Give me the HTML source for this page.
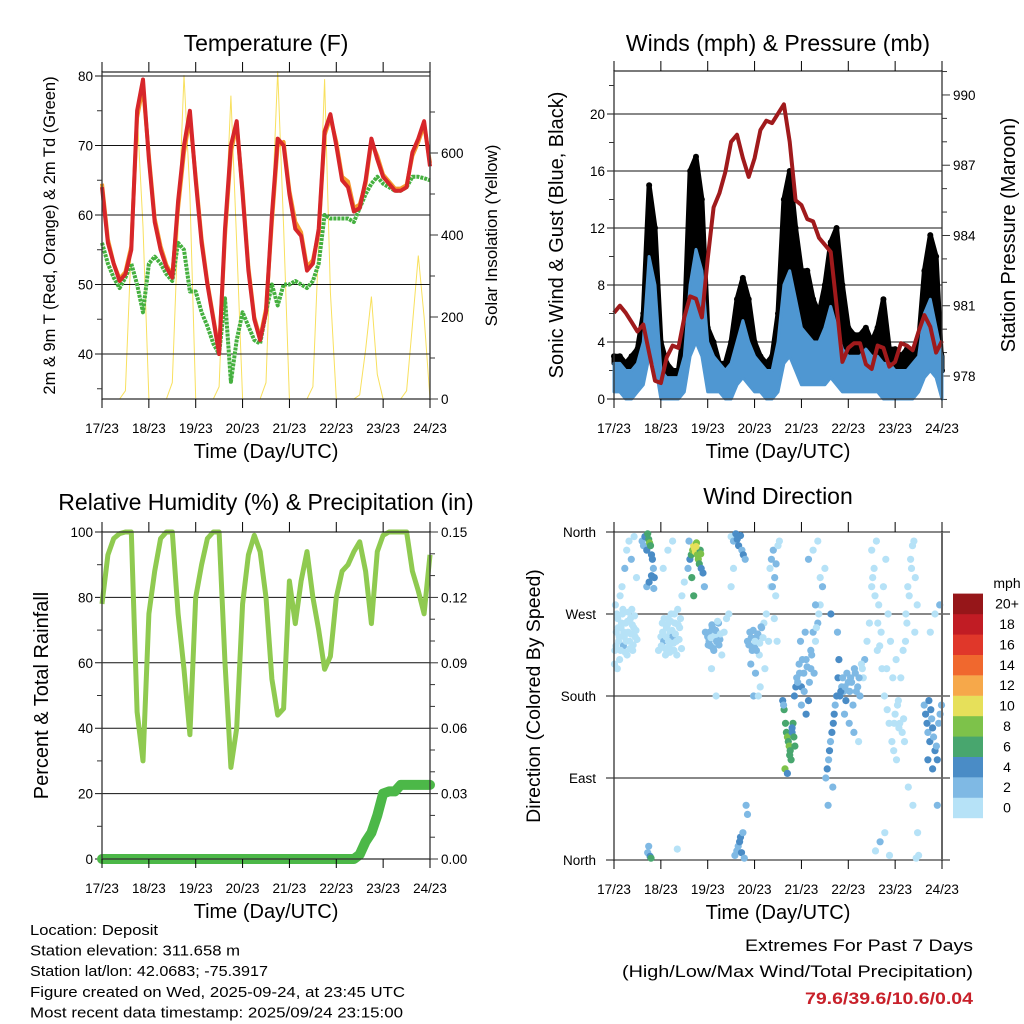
<!DOCTYPE html>
<html><head><meta charset="utf-8"><style>
html,body{margin:0;padding:0;background:#fff;}
svg{display:block;font-family:"Liberation Sans",sans-serif;}
</style></head><body>
<svg id="fig" width="1024" height="1024" viewBox="0 0 1024 1024" xmlns="http://www.w3.org/2000/svg"></svg>
<script>
// ---------- DATA (3-hourly, day offsets from 17/23 UTC) ----------
const dayLabels = ["17/23","18/23","19/23","20/23","21/23","22/23","23/23","24/23"];
const tempT = [64,56,53,50.5,51.5,55,75,79.5,68,59,55,52.5,51,62,70,75,65,56,50,45,40,58,70,73.5,63,52,45,42,46,60,71,70,63,58,57,52,53,58,72,74.5,70,65,64,60.5,61,65,71,68,65.5,64.5,63.5,63.5,64,69,71,73.5,67];
const tempT9 = [64.5,56.5,53,50.8,51.8,55.5,74,78.5,68.5,59.5,55.5,52.8,51.3,61,69,74,65.5,56.5,50.3,45.3,40.3,57,69,73,63.5,52.5,45.3,42.3,46.5,59,70,70.5,63.5,59,57.5,52.5,53.5,57.5,71.5,74,70.5,65.5,64.8,61,61.5,64.5,70.5,68.5,65.8,64.8,63.8,63.8,64.3,68.5,70.5,73,67.5];
const tempTd = [56,53,51,49.5,51,53,50,46,53,54,53,51.5,50.5,56,55,49,49,46,44,41.5,40,48,36,42,46,44,42,41.5,46,50,47,50,50,50.5,50,49.5,50.5,53,60,59.5,59.5,59.5,59.5,59,61,63,64.5,65.5,64.5,64,63.5,63.5,64,65.5,65.5,65.3,65];
const solar = [0,0,0,0,20,380,700,420,0,0,0,0,40,420,790,500,0,0,0,0,30,400,740,380,0,0,0,0,40,450,800,420,0,0,0,0,30,380,780,260,0,0,0,0,10,120,250,60,0,0,0,0,20,180,350,200,0];
const pressure = [980.7,981,980.7,980.3,979.9,980.2,979,977.8,977.7,978.8,979.3,979.2,980.5,981.4,981.3,980.5,983,985.2,985.8,986.7,988,988.3,987.3,986.5,987.3,988.5,988.9,988.8,989.2,989.6,988,985.5,985.3,984.7,984.6,983.9,983.6,983.3,981,978.6,979.2,979.4,979.4,978.5,978.3,979.3,979.2,978.4,978.6,979.4,979.3,979.1,979.9,980.6,980.1,979,979.5];
const windHi = [2.5,2.5,2,2,2.5,4,10,8,2,1.5,1.5,1.5,3,8,10.5,9,4,3,2.5,2,2.5,4,5.5,4,3,2.5,2,2,4,8,9,7,5,4.5,4,4,5,6.5,5,3.5,3,3,3,3.5,3,3,2.5,2.5,2,2,2,2.5,3,6,7,5,3];
const windLo = [0.5,0.5,0,0,0.5,1,3,2.5,0,0,0,0,0.5,3,4,3,0.5,0.5,0.5,0,0,1,1.5,1,0.5,0.5,0,0,0.5,2.5,3,2,1,1,1,1,1,1.5,1,0.5,0.5,0.5,0.5,0.5,0.5,0.5,0,0,0,0,0,0,0.5,1.5,2,1.5,0];
const gustHi = [3,3,2.5,3,3.5,6,15,12,4,2.5,2,2,5,16,17,14,5,4,2.5,2.5,4,7,8.5,7,4,3,2.5,3,6,14,16,12,9,9,7,6,8,11,12,8,5,4.5,4.5,5,4,5,7,3.5,3.5,3,3.5,3,4,9,11.5,10,2];
const rh = [78,93,98,99.5,100,100,45,30,75,88,98,100,100,75,58,38,80,90,98,100,100,60,28,40,78,93,99,94,80,55,44,46,85,72,85,94,80,70,58,62,80,88,90,94,97,88,72,94,99,100,100,100,100,88,82,75,93];
const precip = [0,0,0,0,0,0,0,0,0,0,0,0,0,0,0,0,0,0,0,0,0,0,0,0,0,0,0,0,0,0,0,0,0,0,0,0,0,0,0,0,0,0,0,0,0.002,0.008,0.012,0.02,0.03,0.031,0.031,0.034,0.034,0.034,0.034,0.034,0.034];
const windDirDays = [0.02,0.05,0.08,0.1,0.12,0.15,0.18,0.2,0.22,0.25,0.28,0.3,0.33,0.35,0.38,0.4,0.42,0.45,0.03,0.07,0.13,0.17,0.23,0.27,0.32,0.37,0.43,0.48,
0.6,0.63,0.66,0.7,0.72,0.74,0.76,0.78,0.8,0.82,0.84,0.86,0.7,0.75,0.8,0.85,0.72,0.77,0.74,0.79,
0.95,1.0,1.03,1.06,1.1,1.12,1.15,1.18,1.2,1.22,1.25,1.28,1.3,1.33,1.36,1.4,1.45,1.5,1.05,1.15,1.25,1.35,
1.58,1.62,1.65,1.68,1.7,1.72,1.74,1.76,1.78,1.8,1.82,1.84,1.86,1.9,1.93,1.66,1.75,1.85,1.7,1.6,
1.95,2.0,2.03,2.06,2.1,2.13,2.16,2.2,2.23,2.26,2.3,2.35,2.4,2.45,2.5,2.55,2.08,2.18,
2.5,2.55,2.6,2.63,2.66,2.7,2.73,2.76,2.8,2.58,2.65,2.7,2.75,2.62,2.68,2.72,2.78,2.82,2.85,
2.85,2.9,2.95,3.0,3.05,3.1,3.15,3.2,3.25,3.3,3.35,2.92,3.02,3.12,3.22,2.98,3.08,
3.33,3.36,3.4,3.43,3.46,3.5,3.53,3.38,3.45,3.42,3.48,
3.6,3.63,3.66,3.68,3.7,3.72,3.74,3.76,3.78,3.8,3.82,3.84,3.86,3.65,3.7,3.75,3.8,3.85,3.62,3.88,
3.9,3.95,4.0,4.05,4.1,4.15,4.2,4.25,4.3,4.35,4.4,4.45,4.5,4.0,4.1,4.2,4.3,4.4,4.15,4.25,4.35,3.98,4.08,
4.52,4.55,4.58,4.6,4.62,4.65,4.68,4.7,4.72,4.75,4.78,4.8,4.57,4.67,4.77,4.63,
4.82,4.86,4.9,4.95,5.0,5.05,5.1,5.15,5.2,5.25,5.3,5.35,5.4,4.92,5.02,5.12,5.22,5.32,5.45,5.5,
5.5,5.55,5.6,5.65,5.7,5.75,5.8,5.85,5.9,5.95,6.0,6.05,6.1,6.15,6.2,6.25,6.3,6.35,6.4,6.45,6.5,5.58,5.68,5.78,5.88,5.98,6.08,6.18,6.28,6.38,6.48,5.62,5.82,6.02,6.22,6.42,
6.62,6.65,6.68,6.7,6.72,6.74,6.76,6.78,6.8,6.82,6.85,6.88,6.9,6.93,6.96,6.99,6.7,6.8,6.9,6.75,6.85,6.95,
0.01,0.04,0.06,0.09,0.11,0.14,0.16,0.19,0.21,0.24,0.26,0.29,0.31,0.34,0.36,0.39,0.41,0.44,0.47,0.49,
1.01,1.04,1.07,1.09,1.11,1.14,1.16,1.19,1.21,1.24,1.27,1.29,1.31,1.34,1.37,1.39,1.42,1.44,
2.01,2.04,2.07,2.09,2.12,2.14,2.17,2.19,2.21,2.24,2.27,
2.88,2.93,2.97,3.01,3.04,3.07,3.11,3.14,3.18,
5.52,5.57,5.63,5.67,5.72,5.77,5.83,5.87,5.93,5.97,6.03,6.07,6.12,6.17,6.23,6.27,6.33,6.37,6.43,6.47,
3.92,3.96,4.02,4.06,4.12,4.17,4.22,4.27,4.32,4.37,
4.84,4.88,4.93,4.97,5.03,5.07,5.13,5.17,5.23,5.28];
const windDirDeg = [230,250,265,240,220,255,270,235,245,260,225,250,240,265,275,230,255,245,280,210,290,300,320,340,350,330,355,310,
350,345,355,340,358,352,348,345,335,330,320,310,300,305,312,298,8,4,15,2,
230,245,260,240,225,255,265,235,250,270,245,230,260,240,275,255,290,305,320,340,350,12,
320,330,335,340,345,342,338,348,335,330,325,340,320,315,300,310,344,336,290,350,
250,245,240,235,255,230,248,238,260,242,225,250,265,270,300,320,210,180,
355,350,358,352,345,356,340,335,330,5,15,25,30,10,20,8,2,60,50,
240,250,230,235,245,225,255,260,270,240,300,215,205,190,210,180,180,
320,330,340,310,325,345,350,300,290,265,240,
175,165,150,140,135,130,125,120,110,140,150,135,125,100,95,115,145,180,170,190,
200,215,190,205,220,175,230,250,240,260,280,300,320,170,160,210,280,310,330,340,350,240,250,
90,100,110,120,130,140,150,160,170,180,200,220,60,80,250,270,
180,190,185,175,195,200,170,205,190,180,210,220,240,160,150,140,130,200,260,300,
340,320,350,280,250,300,330,270,240,200,160,170,150,140,130,260,290,320,350,2,5,10,20,30,5,150,145,155,80,60,30,230,210,220,240,250,
170,160,150,140,175,130,165,155,145,135,120,125,110,150,160,170,110,100,60,250,270,280,
215,235,270,255,245,230,260,275,250,228,240,262,272,232,248,258,236,268,252,242,
235,250,265,232,245,258,240,228,262,252,238,270,248,225,258,242,265,232,
236,250,244,258,232,246,252,240,262,236,248,
236,244,252,240,230,248,238,256,244,
310,290,260,235,210,180,165,150,130,120,110,175,200,230,270,300,330,345,310,280,
195,205,220,185,212,195,225,205,255,270,
185,200,190,205,185,195,210,185,200,215];
const windDirSpd = [0,0,1,0,0,1,0,2,0,0,1,0,0,0,1,0,0,1,0,0,1,0,2,0,1,2,0,0,
2,3,4,5,6,7,9,6,5,4,3,4,3,4,5,3,2,5,3,6,
1,0,0,2,1,0,0,1,0,0,2,0,1,0,0,0,0,1,0,0,0,0,
3,5,7,9,10,11,10,9,8,8,7,6,5,4,3,7,10,8,6,2,
2,3,2,3,2,3,2,1,3,2,1,0,0,1,0,0,1,0,
1,3,4,5,4,5,3,4,3,2,3,4,3,2,5,4,3,2,3,
2,3,2,3,2,1,2,1,0,1,0,2,3,1,0,2,1,
1,2,2,3,2,1,0,2,1,1,0,
5,6,7,6,8,7,8,7,6,5,6,7,6,8,4,6,5,4,3,4,
3,2,4,3,2,4,3,2,1,2,1,2,1,3,4,2,2,1,2,1,0,3,2,
3,4,3,4,3,4,5,4,3,4,5,4,2,3,3,4,
4,3,3,4,2,3,2,2,3,2,1,2,1,3,2,2,1,1,0,0,
0,1,0,0,1,0,0,1,0,0,0,1,0,0,1,0,0,1,0,0,0,1,2,1,0,0,1,0,0,1,0,0,1,0,0,1,
3,4,4,3,5,4,4,3,4,3,4,3,4,3,2,3,4,5,3,1,1,2,
0,0,0,1,0,0,0,0,0,1,0,0,0,0,0,1,0,0,0,0,
0,0,0,0,1,0,0,0,0,0,0,0,0,0,1,0,0,0,
2,2,1,2,2,1,2,2,1,2,1,
2,2,2,1,2,2,1,2,1,
0,0,1,0,0,1,0,0,0,0,0,0,0,0,0,0,0,0,0,0,
3,2,2,3,2,3,2,2,1,1,
4,3,3,3,2,2,2,2,2,1];
const speedLabels = ["0","2","4","6","8","10","12","14","16","18","20+"];
const speedColors = ["#b6e2f7","#7fb9e4","#4a8cc6","#48a66e","#7dc24a","#e6e05a","#f6a84a","#f0682e","#e0372a","#c11c24","#961619"];
const tempTicks = [40,50,60,70,80];
const solarTicks = [0,200,400,600];
const windTicks = [0,4,8,12,16,20];
const presTicks = [978,981,984,987,990];
const rhTicks = [0,20,40,60,80,100];
const rainTicks = ["0.00","0.03","0.06","0.09","0.12","0.15"];
const dirLabels = ["North","East","South","West","North"];

// ---------- helpers ----------
const NS="http://www.w3.org/2000/svg";
const svg=document.getElementById('fig');
function mk(tag,attrs,parent){const e=document.createElementNS(NS,tag);for(const k in attrs)e.setAttribute(k,attrs[k]);(parent||svg).appendChild(e);return e;}
function txt(s,attrs,parent){const e=mk('text',attrs,parent);e.textContent=s;return e;}
const STEP=0.125;
function pathOf(arr,fx,fy){return arr.map((v,i)=>(i?'L':'M')+fx(i*STEP).toFixed(1)+','+fy(v).toFixed(1)).join('');}
function bandOf(lo,hi,fx,fy){let d=hi.map((v,i)=>(i?'L':'M')+fx(i*STEP).toFixed(1)+','+fy(v).toFixed(1)).join('');for(let i=lo.length-1;i>=0;i--)d+='L'+fx(i*STEP).toFixed(1)+','+fy(lo[i]).toFixed(1);return d+'Z';}

function panel(name,L,R,T,B){
  const g=mk('g',{});
  
  
  const fx=d=>L+d*(R-L)/7;
  return {g,fx,L,R,T,B};
}
function xAxis(p){
  const ga=mk('g',{},p.g);
  
  
  dayLabels.forEach((s,i)=>{
    const x=p.fx(i);
    mk('line',{x1:x,x2:x,y1:p.T-10,y2:p.T,stroke:'#000','stroke-width':1},ga);
    mk('line',{x1:x,x2:x,y1:p.B,y2:p.B+9,stroke:'#000','stroke-width':1},ga);
    const t=txt(s,{x:x,y:p.B+34,'font-size':13.5,'text-anchor':'middle',fill:'#000'},ga);
    
    
  });
  const tt=txt('Time (Day/UTC)',{x:(p.L+p.R)/2,y:p.B+59,'font-size':20,'text-anchor':'middle',fill:'#000'},ga);
  
  
}
function frame(p){mk('rect',{x:p.L,y:p.T,width:p.R-p.L,height:p.B-p.T,fill:'none',stroke:'#333','stroke-width':1.3},p.g);}
function leftAxis(p,ticks,fy,minors,labels){
  const ga=mk('g',{},p.g);
  
  
  ticks.forEach((v,i)=>{
    const y=fy(v);
    mk('line',{x1:p.L-7,x2:p.R,y1:y,y2:y,stroke:'#111','stroke-width':1},ga);
    const t=txt(labels?labels[i]:String(v),{x:p.L-9,y:y+5,'font-size':13.5,'text-anchor':'end',fill:'#000'},ga);
    
    
  });
  minors.forEach(v=>{const y=fy(v);mk('line',{x1:p.L-5,x2:p.L,y1:y,y2:y,stroke:'#333','stroke-width':1},ga);});
}
function rightAxis(p,ticks,fy,minors,labels){
  const ga=mk('g',{},p.g);
  
  
  ticks.forEach((v,i)=>{
    const y=fy(v);
    mk('line',{x1:p.R,x2:p.R+8,y1:y,y2:y,stroke:'#333','stroke-width':1},ga);
    const t=txt(labels?labels[i]:String(v),{x:p.R+11,y:y+5,'font-size':13.5,'text-anchor':'start',fill:'#000'},ga);
    
    
  });
  minors.forEach(v=>{const y=fy(v);mk('line',{x1:p.R,x2:p.R+5,y1:y,y2:y,stroke:'#333','stroke-width':1},ga);});
}
function ylabel(p,s,x,name,fs){
  const t=txt(s,{x:0,y:0,'font-size':fs,'text-anchor':'middle',fill:'#000',transform:`translate(${x},${(p.T+p.B)/2}) rotate(-90)`},p.g);
  
  
}
function title(s,x,y,name){
  const t=txt(s,{x:x,y:y,'font-size':23,'text-anchor':'middle',fill:'#000'});
  
  
}

// ---------- Temperature ----------
{
const p=panel('temperature-panel',102,430,72,399);
const fy=v=>76+(80-v)*6.95, fs=v=>399-v*0.41;
const sl=mk('path',{d:pathOf(solar,p.fx,fs),fill:'none',stroke:'#f8e05e','stroke-width':1},p.g);


leftAxis(p,tempTicks,fy,[35,45,55,65,75]);
rightAxis(p,solarTicks,fs,[100,300,500,700]);
const td=mk('path',{d:pathOf(tempTd,p.fx,fy),fill:'none',stroke:'#45b03f','stroke-width':4,'stroke-dasharray':'3 1','stroke-linejoin':'round'},p.g);


const t9=mk('path',{d:pathOf(tempT9,p.fx,fy),fill:'none',stroke:'#f59a2e','stroke-width':4,'stroke-linejoin':'round'},p.g);


const t2=mk('path',{d:pathOf(tempT,p.fx,fy),fill:'none',stroke:'#d7262a','stroke-width':4,'stroke-linejoin':'round'},p.g);


frame(p);xAxis(p);
ylabel(p,'2m & 9m T (Red, Orange) & 2m Td (Green)',55,'left-axis-title',16.5);
ylabel(p,'Solar Insolation (Yellow)',497,'right-axis-title',17);
title('Temperature (F)',266,51,'temperature-title');
}
// ---------- Winds ----------
{
const p=panel('winds-panel',614,942,71,399);
const fy=v=>399-v*14.25, fp=v=>376-(v-978)*23.42;
leftAxis(p,windTicks.slice(1),fy,[2,6,10,14,18,22]);
mk('line',{x1:p.L-7,x2:p.L,y1:fy(0),y2:fy(0),stroke:'#000'},p.g);
txt('0',{x:p.L-9,y:fy(0)+5,'font-size':13.5,'text-anchor':'end'},p.g);
rightAxis(p,presTicks,fp,[977,979,980,982,983,985,986,988,989,991]);
const gb=mk('path',{d:bandOf(windHi,gustHi,p.fx,fy),fill:'#000',stroke:'#000','stroke-width':5,'stroke-linejoin':'round'},p.g);


const gd=mk('g',{},p.g);


gustHi.forEach((v,i)=>{mk('circle',{cx:p.fx(i*STEP),cy:fy(v),r:3,fill:'#000'},gd);});
const wb=mk('path',{d:bandOf(windLo,windHi,p.fx,fy),fill:'#4f97d2',stroke:'#4f97d2','stroke-width':3,'stroke-linejoin':'round'},p.g);


const pl=mk('path',{d:pathOf(pressure,p.fx,fp),fill:'none',stroke:'#a01a1c','stroke-width':4,'stroke-linejoin':'round'},p.g);


frame(p);xAxis(p);
ylabel(p,'Sonic Wind & Gust (Blue, Black)',563,'left-axis-title',20);
ylabel(p,'Station Pressure (Maroon)',1015,'right-axis-title',20);
title('Winds (mph) & Pressure (mb)',778,51,'winds-title');
}
// ---------- RH ----------
{
const p=panel('humidity-panel',102,430,532,859);
const fy=v=>859-v*3.27, fr=v=>859-v*2180;
leftAxis(p,rhTicks,fy,[10,30,50,70,90]);
rightAxis(p,rainTicks.map(Number),fr,[0.01,0.02,0.04,0.05,0.07,0.08,0.1,0.11,0.13,0.14],rainTicks);
const r=mk('path',{d:pathOf(rh,p.fx,fy),fill:'none',stroke:'#8fca50','stroke-width':5,'stroke-linejoin':'round'},p.g);


const pr=mk('path',{d:pathOf(precip,p.fx,fr),fill:'none',stroke:'#4cb848','stroke-width':10,'stroke-linejoin':'round','stroke-linecap':'round'},p.g);


frame(p);xAxis(p);
ylabel(p,'Percent & Total Rainfall',48,'left-axis-title',20);
title('Relative Humidity (%) & Precipitation (in)',266,510,'humidity-title');
}
// ---------- Wind direction ----------
{
const p=panel('wind-direction-panel',614,942,532,860);
const fy=v=>860-v/360*328;
dirLabels.forEach((s,i)=>{
  const y=fy(i*90);
  mk('line',{x1:p.L-8,x2:p.R+8,y1:y,y2:y,stroke:'#111','stroke-width':1},p.g);
  const t=txt(s,{x:p.L-18,y:y+5,'font-size':13.5,'text-anchor':'end',fill:'#000'},p.g);
  
  
});
const gp=mk('g',{},p.g);


windDirDays.forEach((d,i)=>{
  const c=speedColors[Math.min(10,Math.floor(windDirSpd[i]/2))];
  mk('circle',{cx:p.fx(d).toFixed(1),cy:fy(windDirDeg[i]).toFixed(1),r:3.6,fill:c},gp);
});
mk('line',{x1:p.L,x2:p.L,y1:p.T,y2:p.B,stroke:'#333','stroke-width':1.3},p.g);
mk('line',{x1:p.R,x2:p.R,y1:p.T,y2:p.B,stroke:'#666','stroke-width':2},p.g);
xAxis(p);
ylabel(p,'Direction (Colored By Speed)',540,'left-axis-title',19.5);
title('Wind Direction',778,504,'wind-direction-title');
const lg=mk('g',{});


txt('mph',{x:1007,y:588,'font-size':14,'text-anchor':'middle'},lg);
speedLabels.forEach((s,i)=>{
  const y=818-(i+1)*20.4;
  mk('rect',{x:953,y:y,width:30,height:20.6,fill:speedColors[i]},lg);
  txt(s,{x:1007,y:y+15,'font-size':14,'text-anchor':'middle'},lg);
});
}
// ---------- info text ----------
const info=["Location: Deposit","Station elevation: 311.658 m","Station lat/lon: 42.0683; -75.3917","Figure created on Wed, 2025-09-24, at 23:45 UTC","Most recent data timestamp: 2025/09/24 23:15:00"];
const infoW=[128,210,238,375,373];
const gi=mk('g',{});


info.forEach((s,i)=>{txt(s,{x:30,y:935+i*20.6,'font-size':14.5,textLength:infoW[i],lengthAdjust:'spacingAndGlyphs'},gi);});
const ge=mk('g',{});


txt('Extremes For Past 7 Days',{x:745,y:951,'font-size':17,textLength:228,lengthAdjust:'spacingAndGlyphs'},ge);
txt('(High/Low/Max Wind/Total Precipitation)',{x:622,y:977,'font-size':17,textLength:351,lengthAdjust:'spacingAndGlyphs'},ge);
txt('79.6/39.6/10.6/0.04',{x:805,y:1004,'font-size':17,'font-weight':'bold',fill:'#c8202a',textLength:168,lengthAdjust:'spacingAndGlyphs'},ge);
</script>
</body></html>
